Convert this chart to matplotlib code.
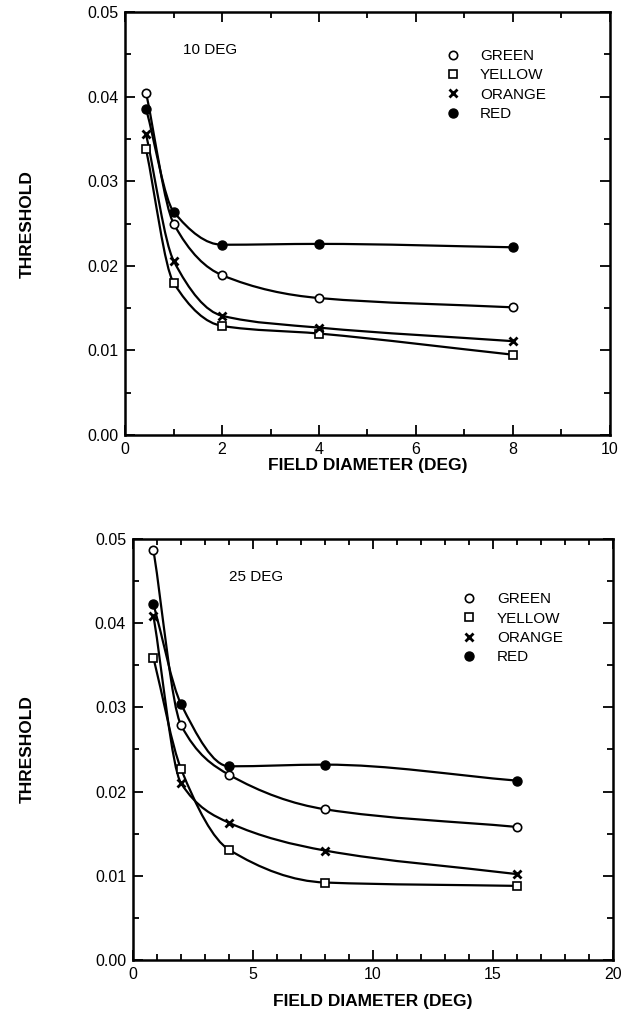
import matplotlib
matplotlib.use("Agg")
import matplotlib.pyplot as plt
from matplotlib.path import Path
from matplotlib.patches import PathPatch
from matplotlib.ticker import MultipleLocator, FormatStrFormatter
import numpy as np

plt.rcParams['font.family'] = ['Liberation Sans', 'DejaVu Sans']

# 10 DEG eccentricity
x10 = [0.43, 1, 2, 4, 8]
green10 = [0.0405, 0.0250, 0.0189, 0.0162, 0.0151]
yellow10 = [0.0338, 0.0180, 0.0129, 0.0120, 0.0095]
orange10 = [0.0356, 0.0206, 0.0141, 0.0127, 0.0111]
red10 = [0.0386, 0.0264, 0.0225, 0.0226, 0.0222]

# 25 DEG eccentricity
x25 = [0.85, 2, 4, 8, 16]
green25 = [0.0487, 0.0279, 0.0220, 0.0179, 0.0158]
yellow25 = [0.0359, 0.0227, 0.0131, 0.0092, 0.0088]
orange25 = [0.0409, 0.0210, 0.0163, 0.0130, 0.0102]
red25 = [0.0423, 0.0304, 0.0230, 0.0232, 0.0213]

labels = ['GREEN', 'YELLOW', 'ORANGE', 'RED']
marker_style = [
    dict(marker='o', mfc='white', mec='black', ms=6, mew=1.2),
    dict(marker='s', mfc='white', mec='black', ms=5.5, mew=1.2),
    dict(marker='x', color='black', ms=6, mew=2),
    dict(marker='o', mfc='black', mec='black', ms=6.5),
]


def smooth_curve(ax, xs, ys):
    # monotone cubic (Fritsch-Carlson slopes) drawn as bezier path
    xs = np.asarray(xs, float)
    ys = np.asarray(ys, float)
    h = np.diff(xs)
    d = np.diff(ys) / h
    m = np.zeros_like(ys)
    m[0], m[-1] = d[0], d[-1]
    for i in range(1, len(xs) - 1):
        if d[i - 1] * d[i] > 0:
            w1 = 2 * h[i] + h[i - 1]
            w2 = h[i] + 2 * h[i - 1]
            m[i] = (w1 + w2) / (w1 / d[i - 1] + w2 / d[i])
    verts = [(xs[0], ys[0])]
    codes = [Path.MOVETO]
    for i in range(len(xs) - 1):
        verts += [(xs[i] + h[i] / 3, ys[i] + m[i] * h[i] / 3),
                  (xs[i + 1] - h[i] / 3, ys[i + 1] - m[i + 1] * h[i] / 3),
                  (xs[i + 1], ys[i + 1])]
        codes += [Path.CURVE4] * 3
    ax.add_patch(PathPatch(Path(verts, codes), fill=False, lw=1.6,
                           ec='black', transform=ax.transData))


def draw_panel(ax, xs, series, title, xmax, xmajor, leg_anchor, title_pos,
               ylab_x, xlab_pad):
    for ys, lab, st in zip(series, labels, marker_style):
        smooth_curve(ax, xs, ys)
        ax.plot(xs, ys, ls='none', label=lab, **st, zorder=3)
    ax.set_xlim(0, xmax)
    ax.set_ylim(0, 0.05)
    ax.xaxis.set_major_locator(MultipleLocator(xmajor))
    ax.xaxis.set_minor_locator(MultipleLocator(1))
    ax.yaxis.set_major_locator(MultipleLocator(0.01))
    ax.yaxis.set_minor_locator(MultipleLocator(0.005))
    ax.yaxis.set_major_formatter(FormatStrFormatter('%.2f'))
    ax.tick_params(which='both', direction='in', top=True, right=True,
                   width=1.3, labelsize=11.5)
    ax.tick_params(which='major', length=7, pad=5)
    ax.tick_params(which='minor', length=4)
    for s in ax.spines.values():
        s.set_linewidth(1.8)
    ax.set_xlabel('FIELD DIAMETER (DEG)', fontsize=12.5, fontweight='bold',
                  labelpad=xlab_pad)
    ax.set_ylabel('THRESHOLD', fontsize=12.5, fontweight='bold')
    ax.yaxis.set_label_coords(ylab_x, 0.5)
    ax.text(title_pos[0], title_pos[1], title, transform=ax.transAxes,
            fontsize=11, va='center', ha='left')
    ax.legend(loc='upper left', bbox_to_anchor=leg_anchor, frameon=False,
              fontsize=11, handlelength=1.0, handletextpad=1.3,
              labelspacing=0.35, borderpad=0, borderaxespad=0, numpoints=1)


fig = plt.figure(figsize=(6.26, 10.15), dpi=100)
ax1 = fig.add_axes([0.2, 0.5714, 0.774, 0.4166])
ax2 = fig.add_axes([0.2125, 0.0542, 0.7665, 0.4148])

draw_panel(ax1, x10, [green10, yellow10, orange10, red10], '10 DEG', 10, 2,
           (0.66, 0.913), (0.12, 0.91), -0.186, 1)
draw_panel(ax2, x25, [green25, yellow25, orange25, red25], '25 DEG', 20, 5,
           (0.685, 0.873), (0.2, 0.91), -0.204, 9)

fig.savefig('out.png', dpi=100)
